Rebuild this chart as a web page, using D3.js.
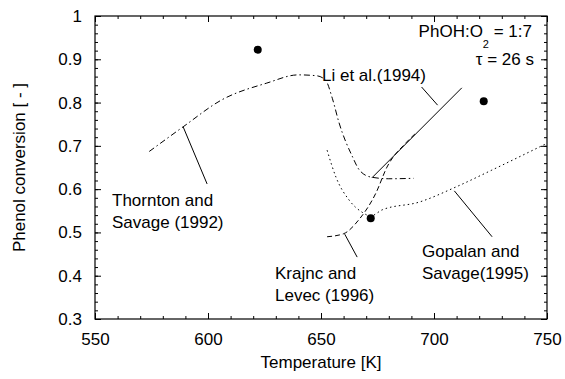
<!DOCTYPE html>
<html>
<head>
<meta charset="utf-8">
<script src="https://cdn.jsdelivr.net/npm/d3@7/dist/d3.min.js"></script>
<style>
  body { margin: 0; background: #fff; }
  svg text { font-family: "Liberation Sans", Arial, sans-serif; fill: #000; }
</style>
</head>
<body>
<svg id="chart" width="565" height="379"></svg>
<script>
// --- data ---
const xTicks = [550, 600, 650, 700, 750];
const yTicks = [0.3, 0.4, 0.5, 0.6, 0.7, 0.8, 0.9, 1];

const experiments = [[622, 0.922], [672, 0.533], [722, 0.803]];

const thornton = [[574, 0.687], [589, 0.744], [606, 0.806], [626, 0.845], [640, 0.864],
  [648, 0.862], [652, 0.852], [655, 0.81], [658, 0.753], [664, 0.674], [667, 0.644],
  [672, 0.628], [680, 0.624], [691, 0.625]];
const li = [[672.5, 0.626], [712.3, 0.834]];
const krajnc = [[652.7, 0.490], [660, 0.497], [666.7, 0.529], [674.3, 0.591],
  [679.2, 0.651], [687.6, 0.707], [692.5, 0.732]];
const gopalan = [[652.7, 0.690], [656.6, 0.628], [662.4, 0.575], [668.1, 0.547],
  [672, 0.538], [677, 0.552], [693.4, 0.570], [709.7, 0.605], [725.6, 0.644], [750, 0.706]];

// label leaders: [x1, y1, x2, y2] in data units
const leaders = [
  [589, 0.744, 599.6, 0.612],
  [694.5, 0.836, 701.6, 0.794],
  [660.5, 0.496, 666, 0.443],
  [709, 0.596, 725.7, 0.490]
];

const width = 565, height = 379;
const margin = { left: 95, right: 18, top: 16, bottom: 60 };

const svg = d3.select('#chart');

const x = d3.scaleLinear().domain([550, 750]).range([margin.left, width - margin.right]);
const y = d3.scaleLinear().domain([0.3, 1]).range([height - margin.bottom, margin.top]);

// inward ticks on all four sides
const major = 6, minor = 3;
const xMinor = d3.range(550, 751, 10);
const yMinor = d3.range(15, 51).map(d => d / 50);

svg.append('g')
  .attr('transform', `translate(0,${y(0.3)})`)
  .call(d3.axisBottom(x).tickValues(xMinor).tickSize(-minor).tickFormat(''))
  .call(a => a.select('.domain').remove());
svg.append('g')
  .attr('transform', `translate(0,${y(0.3)})`)
  .call(d3.axisBottom(x).tickValues(xTicks).tickSize(-major).tickPadding(14).tickFormat(d3.format('d')))
  .call(a => a.select('.domain').remove())
  .call(a => a.selectAll('text').style('font-size', '17px').attr('fill', '#000'));
svg.append('g')
  .attr('transform', `translate(0,${y(1)})`)
  .call(d3.axisTop(x).tickValues(xMinor).tickSize(-minor).tickFormat(''))
  .call(a => a.select('.domain').remove());
svg.append('g')
  .attr('transform', `translate(0,${y(1)})`)
  .call(d3.axisTop(x).tickValues(xTicks).tickSize(-major).tickFormat(''))
  .call(a => a.select('.domain').remove());

svg.append('g')
  .attr('transform', `translate(${x(550)},0)`)
  .call(d3.axisLeft(y).tickValues(yMinor).tickSize(-minor).tickFormat(''))
  .call(a => a.select('.domain').remove());
svg.append('g')
  .attr('transform', `translate(${x(550)},0)`)
  .call(d3.axisLeft(y).tickValues(yTicks).tickSize(-major).tickPadding(major + 7).tickFormat(d => d === 1 ? '1' : d3.format('.1f')(d)))
  .call(a => a.select('.domain').remove())
  .call(a => a.selectAll('text').style('font-size', '17px').attr('fill', '#000'));
svg.append('g')
  .attr('transform', `translate(${x(750)},0)`)
  .call(d3.axisRight(y).tickValues(yMinor).tickSize(-minor).tickFormat(''))
  .call(a => a.select('.domain').remove());
svg.append('g')
  .attr('transform', `translate(${x(750)},0)`)
  .call(d3.axisRight(y).tickValues(yTicks).tickSize(-major).tickFormat(''))
  .call(a => a.select('.domain').remove());

svg.selectAll('.tick line').attr('stroke', '#000');

svg.append('rect')
  .attr('x', x(550)).attr('y', y(1))
  .attr('width', x(750) - x(550)).attr('height', y(0.3) - y(1))
  .attr('fill', 'none').attr('stroke', '#000').attr('stroke-width', 1.2);

// curves
const line = d3.line().x(d => x(d[0])).y(d => y(d[1])).curve(d3.curveMonotoneX);
const curves = [
  { data: thornton, dash: '6,3,1.5,3' },
  { data: li, dash: null },
  { data: krajnc, dash: '5,3' },
  { data: gopalan, dash: '1.5,3' }
];
svg.append('g').selectAll('path')
  .data(curves)
  .join('path')
  .attr('d', d => line(d.data))
  .attr('fill', 'none')
  .attr('stroke', '#000')
  .attr('stroke-width', 1)
  .attr('stroke-dasharray', d => d.dash);

svg.append('g').selectAll('line')
  .data(leaders)
  .join('line')
  .attr('x1', d => x(d[0])).attr('y1', d => y(d[1]))
  .attr('x2', d => x(d[2])).attr('y2', d => y(d[3]))
  .attr('stroke', '#000').attr('stroke-width', 1);

svg.append('g').selectAll('circle')
  .data(experiments)
  .join('circle')
  .attr('cx', d => x(d[0])).attr('cy', d => y(d[1]))
  .attr('r', 4).attr('fill', '#000');

// labels
const labels = [
  { x: 112, y: 206, t: 'Thornton and' },
  { x: 112, y: 228, t: 'Savage (1992)' },
  { x: 322, y: 81, t: 'Li et al.(1994)' },
  { x: 275, y: 279, t: 'Krajnc and' },
  { x: 275, y: 301, t: 'Levec (1996)' },
  { x: 422, y: 257, t: 'Gopalan and' },
  { x: 422, y: 279, t: 'Savage(1995)' }
];
svg.append('g').selectAll('text')
  .data(labels)
  .join('text')
  .attr('x', d => d.x).attr('y', d => d.y)
  .style('font-size', '17px')
  .text(d => d.t);

const cond = svg.append('text').attr('x', 532).attr('y', 37).attr('text-anchor', 'end').style('font-size', '17px');
cond.append('tspan').text('PhOH:O');
cond.append('tspan').attr('dy', 11).style('font-size', '11px').text('2');
cond.append('tspan').attr('dy', -11).text(' = 1:7');
svg.append('text').attr('x', 534).attr('y', 65).attr('text-anchor', 'end').style('font-size', '17px').text('τ = 26 s');

svg.append('text')
  .attr('x', (x(550) + x(750)) / 2).attr('y', 368)
  .attr('text-anchor', 'middle').style('font-size', '17px')
  .text('Temperature [K]');
svg.append('text')
  .attr('transform', `translate(25,${(y(0.3) + y(1)) / 2}) rotate(-90)`)
  .attr('text-anchor', 'middle').style('font-size', '17px')
  .text('Phenol conversion [ - ]');
</script>
</body>
</html>
